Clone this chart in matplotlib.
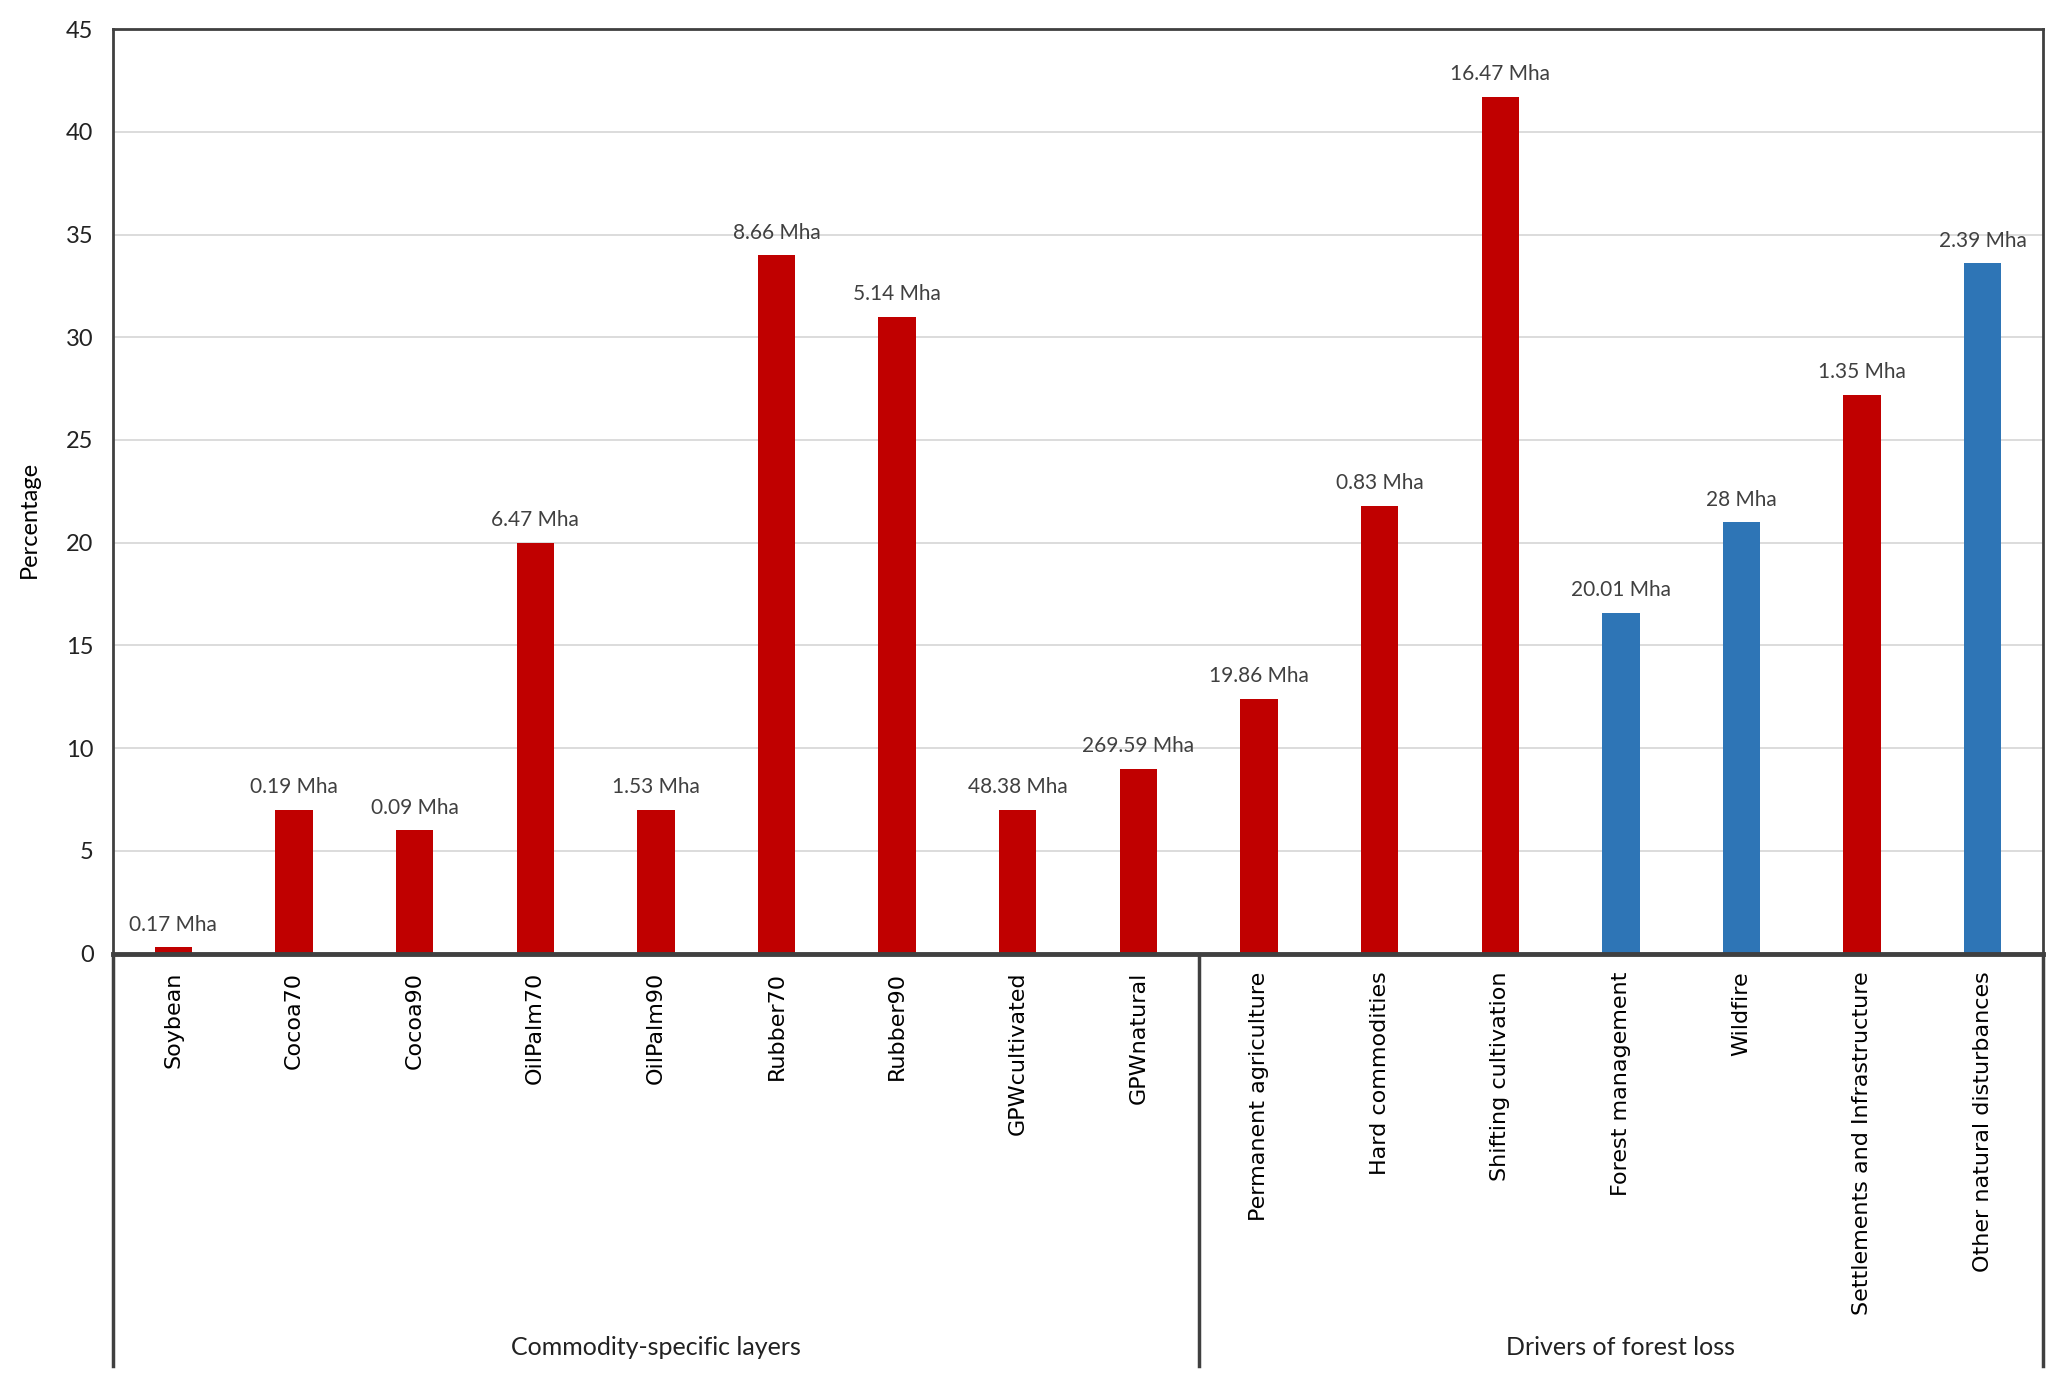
import matplotlib
matplotlib.use('Agg')
import matplotlib.pyplot as plt
import matplotlib.transforms as mtransforms

# data
categories = ['Soybean', 'Cocoa70', 'Cocoa90', 'OilPalm70', 'OilPalm90', 'Rubber70', 'Rubber90',
              'GPWcultivated', 'GPWnatural', 'Permanent agriculture', 'Hard commodities',
              'Shifting cultivation', 'Forest management', 'Wildfire',
              'Settlements and Infrastructure', 'Other natural disturbances']
values = [0.3, 7.0, 6.0, 20.0, 7.0, 34.0, 31.0, 7.0, 9.0, 12.4, 21.8, 41.7, 16.6, 21.0, 27.2, 33.6]
area_labels = ['0.17 Mha', '0.19 Mha', '0.09 Mha', '6.47 Mha', '1.53 Mha', '8.66 Mha', '5.14 Mha',
               '48.38 Mha', '269.59 Mha', '19.86 Mha', '0.83 Mha', '16.47 Mha', '20.01 Mha',
               '28 Mha', '1.35 Mha', '2.39 Mha']
kinds = ['a'] * 12 + ['n', 'n', 'a', 'n']   # a = red, n = blue
groups = ['Commodity-specific layers', 'Drivers of forest loss']
group_sizes = [9, 7]

RED = '#C00000'
BLUE = '#2E75B6'
EDGE = '#404040'
NARROW = ['Lato', 'DejaVu Sans']

fig = plt.figure(figsize=(20.67, 13.88), dpi=100)
ax_bottom, ax_top = 0.313, 0.979
ax = fig.add_axes([0.0547, ax_bottom, 0.9337, ax_top - ax_bottom])

x = list(range(len(categories)))
colors = [RED if k == 'a' else BLUE for k in kinds]
ax.bar(x, values, width=0.31, color=colors, zorder=3)

for xi, v, lab in zip(x, values, area_labels):
    ax.annotate(lab, (xi, v), xytext=(0, 9), textcoords='offset points',
                ha='center', va='bottom', fontsize=15, color='#404040', family=NARROW)

ax.set_xlim(-0.5, len(categories) - 0.5)
ax.set_ylim(0, 45)
ax.set_yticks(range(0, 46, 5))
ax.yaxis.grid(True, color='#D9D9D9', linewidth=1.3, zorder=0)
ax.tick_params(axis='y', length=0, pad=14, labelsize=17, labelcolor='#222222')
for t in ax.get_yticklabels():
    t.set_family(NARROW)

ax.set_xticks(x)
ax.set_xticklabels(categories, rotation=90, va='top', fontsize=16, family='DejaVu Sans')
ax.tick_params(axis='x', length=0, pad=13)

ax.set_ylabel('Percentage', fontsize=17, family=NARROW)
ax.yaxis.set_label_coords(-0.038, 0.47)

for side in ['left', 'top', 'right']:
    ax.spines[side].set_color(EDGE)
    ax.spines[side].set_linewidth(2)
ax.spines['bottom'].set_color(EDGE)
ax.spines['bottom'].set_linewidth(3.5)
ax.spines['bottom'].set_zorder(4)

# lower frame for group labels
low = (0.016 - ax_bottom) / (ax_top - ax_bottom)
trans = mtransforms.blended_transform_factory(ax.transData, ax.transAxes)
edges = [-0.5]
for s in group_sizes:
    edges.append(edges[-1] + s)
for e in edges:
    ax.plot([e, e], [0, low], transform=trans, color=EDGE, linewidth=2.5, clip_on=False)

label_y = (0.029 - ax_bottom) / (ax_top - ax_bottom)
for g, a, b in zip(groups, edges[:-1], edges[1:]):
    ax.text((a + b) / 2, label_y, g, transform=trans, ha='center', va='center',
            fontsize=18, family=NARROW, color='#222222')

plt.savefig('out.png', dpi=100, facecolor='white')
